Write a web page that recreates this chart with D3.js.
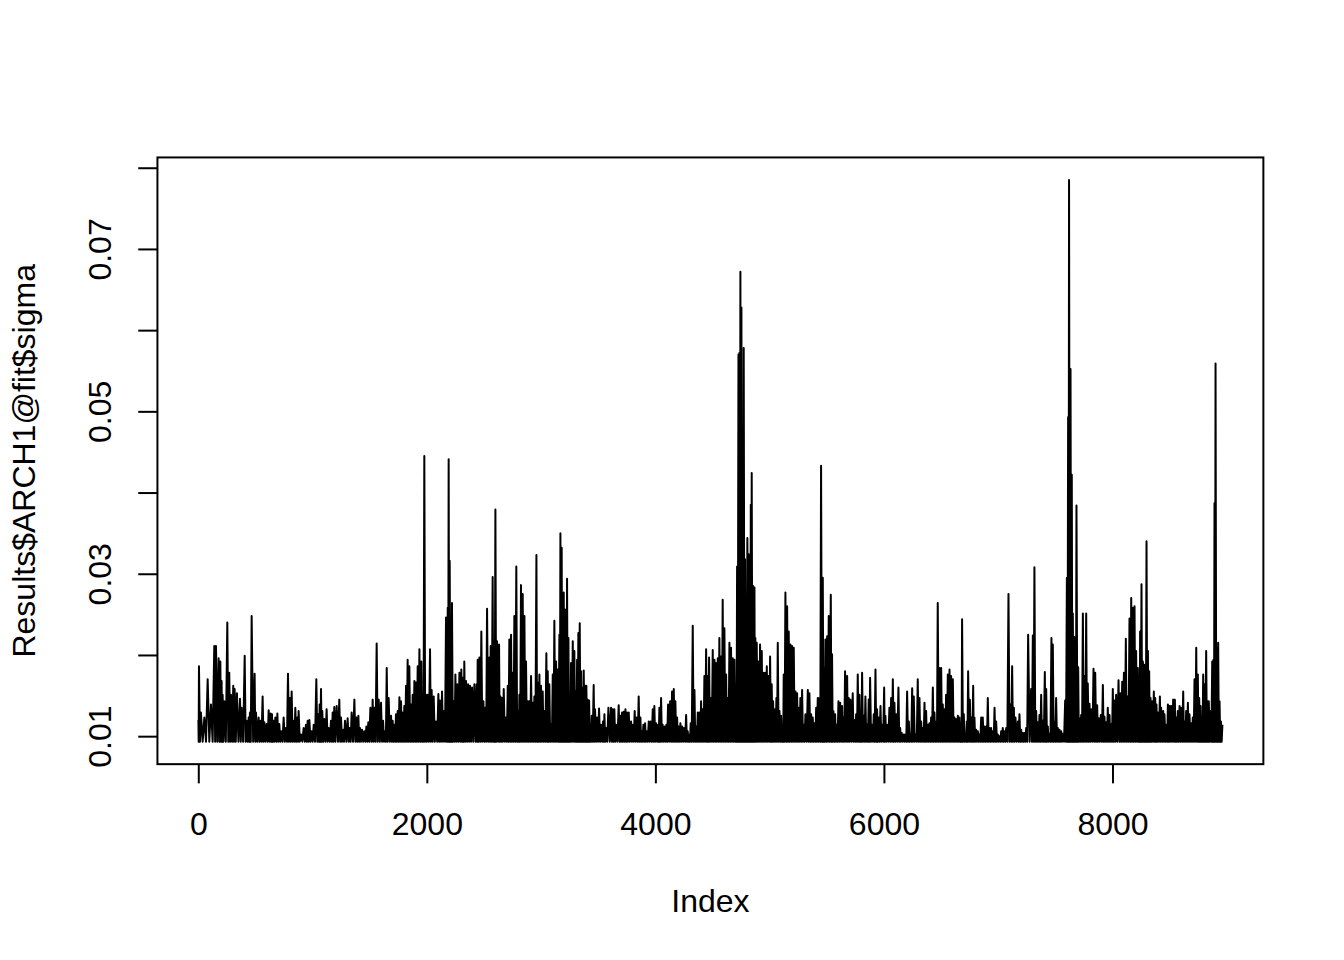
<!DOCTYPE html>
<html>
<head>
<meta charset="utf-8">
<script src="https://cdn.jsdelivr.net/npm/d3@7"></script>
<style>
  html, body { margin: 0; padding: 0; background: #ffffff; }
  svg { display: block; }
  text { font-family: "Liberation Sans", Arial, Helvetica, sans-serif; }
</style>
</head>
<body>
<svg id="chart" width="1344" height="960"></svg>
<script>
// ---- data ----
// local tops of Results$ARCH1@fit$sigma: [index, sigma]
const sigmaPeaks = [
[1,0.0120],[6,0.0186],[23,0.0129],[53,0.0123],[82,0.0170],[111,0.0139],[140,0.0211],[155,0.0211],[178,0.0196],[193,0.0192],[204,0.0168],[213,0.0151],[228,0.0143],[254,0.0240],[271,0.0178],[286,0.0151],[306,0.0162],[318,0.0158],[338,0.0153],[365,0.0146],[379,0.0135],[406,0.0199],[423,0.0119],[441,0.0123],[452,0.0129],[467,0.0248],[493,0.0177],[505,0.0129],[528,0.0123],[543,0.0119],[563,0.0149],[578,0.0117],[598,0.0115],[616,0.0132],[633,0.0128],[645,0.0127],[657,0.0119],[674,0.0123],[692,0.0128],[709,0.0115],[727,0.0106],[747,0.0123],[767,0.0110],[785,0.0177],[802,0.0147],[817,0.0155],[835,0.0119],[849,0.0135],[867,0.0123],[878,0.0131],
[899,0.0102],[922,0.0110],[942,0.0114],[957,0.0119],[972,0.0120],[992,0.0106],[1010,0.0114],[1033,0.0170],[1050,0.0127],[1062,0.0139],[1074,0.0158],[1085,0.0131],[1103,0.0121],[1123,0.0133],[1141,0.0110],[1161,0.0119],[1176,0.0129],[1190,0.0136],[1211,0.0137],[1234,0.0145],[1249,0.0123],[1266,0.0108],[1284,0.0119],[1307,0.0122],[1325,0.0110],[1342,0.0129],[1366,0.0145],[1383,0.0123],[1401,0.0125],[1415,0.0110],[1433,0.0108],[1453,0.0106],[1471,0.0112],[1488,0.0117],[1506,0.0135],[1526,0.0145],[1541,0.0135],[1561,0.0214],[1579,0.0145],[1599,0.0141],[1617,0.0119],[1634,0.0106],[1649,0.0184],[1666,0.0147],[1687,0.0125],[1701,0.0119],[1716,0.0114],[1730,0.0127],[1745,0.0131],[1760,0.0148],
[1774,0.0143],[1789,0.0129],[1803,0.0137],[1818,0.0162],[1832,0.0194],[1847,0.0186],[1862,0.0139],[1876,0.0151],[1891,0.0168],[1905,0.0166],[1920,0.0186],[1935,0.0207],[1952,0.0192],[1964,0.0114],[1978,0.0445],[1993,0.0151],[2007,0.0151],[2028,0.0207],[2042,0.0157],[2060,0.0149],[2080,0.0118],[2101,0.0152],[2115,0.0144],[2133,0.0155],[2150,0.0131],[2168,0.0246],[2183,0.0258],[2191,0.0441],[2200,0.0316],[2212,0.0229],[2220,0.0264],[2235,0.0143],[2250,0.0176],[2267,0.0164],[2285,0.0178],[2302,0.0182],[2314,0.0172],[2328,0.0192],[2343,0.0168],[2361,0.0164],[2378,0.0162],[2396,0.0160],[2416,0.0164],[2436,0.0164],[2445,0.0194],[2460,0.0197],[2477,0.0229],[2495,0.0143],[2512,0.0135],[2527,0.0257],[2547,0.0197],[2559,0.0211],[2576,0.0296],[2588,0.0217],[2600,0.0379],[2614,0.0217],[2632,0.0213],[2644,0.0149],[2658,0.0147],[2673,0.0158],
[2693,0.0123],[2708,0.0162],[2722,0.0219],[2737,0.0225],[2751,0.0178],[2766,0.0248],[2783,0.0309],[2798,0.0131],[2810,0.0151],[2824,0.0286],[2839,0.0275],[2854,0.0248],[2868,0.0192],[2883,0.0143],[2897,0.0143],[2912,0.0174],[2929,0.0141],[2941,0.0149],[2959,0.0323],[2970,0.0166],[2985,0.0176],[2999,0.0162],[3014,0.0155],[3029,0.0131],[3046,0.0202],[3058,0.0180],[3072,0.0164],[3087,0.0114],[3102,0.0176],[3116,0.0242],[3131,0.0192],[3145,0.0182],[3160,0.0225],[3169,0.0350],[3180,0.0332],[3189,0.0256],[3198,0.0277],[3209,0.0256],[3218,0.0221],[3227,0.0294],[3239,0.0221],[3250,0.0147],[3262,0.0190],[3277,0.0217],[3291,0.0205],[3303,0.0155],[3315,0.0194],[3326,0.0227],[3338,0.0239],[3350,0.0180],[3361,0.0159],[3373,0.0181],[3385,0.0162],[3396,0.0162],[3408,0.0145],[3420,0.0144],[3431,0.0114],[3443,0.0125],[3460,0.0163],[3472,0.0133],[3490,0.0123],[3507,0.0134],[3525,0.0114],[3542,0.0118],[3554,0.0127],[3568,0.0110],[3589,0.0135],
[3612,0.0135],[3627,0.0133],[3641,0.0133],[3656,0.0114],[3679,0.0138],[3694,0.0125],[3708,0.0129],[3723,0.0130],[3738,0.0133],[3752,0.0129],[3767,0.0129],[3787,0.0118],[3802,0.0114],[3819,0.0131],[3837,0.0123],[3854,0.0149],[3869,0.0123],[3881,0.0106],[3895,0.0114],[3910,0.0116],[3924,0.0106],[3942,0.0118],[3959,0.0118],[3977,0.0133],[3991,0.0137],[4006,0.0116],[4024,0.0114],[4035,0.0135],[4050,0.0147],[4064,0.0114],[4082,0.0112],[4096,0.0114],[4111,0.0139],[4129,0.0143],[4146,0.0155],[4161,0.0158],[4175,0.0143],[4190,0.0123],[4204,0.0112],[4219,0.0116],[4234,0.0112],[4251,0.0110],[4269,0.0126],[4283,0.0106],[4298,0.0102],[4309,0.0116],[4327,0.0236],[4342,0.0157],[4356,0.0112],[4371,0.0129],[4385,0.0129],[4400,0.0143],[4415,0.0133],[4429,0.0174],[4444,0.0207],[4458,0.0174],[4470,0.0197],[4485,0.0147],[4502,0.0206],
[4517,0.0194],[4531,0.0190],[4546,0.0196],[4560,0.0221],[4575,0.0198],[4589,0.0268],[4604,0.0233],[4619,0.0176],[4633,0.0147],[4648,0.0215],[4662,0.0209],[4677,0.0196],[4692,0.0194],[4706,0.0164],[4715,0.0309],[4727,0.0570],[4735,0.0572],[4744,0.0672],[4753,0.0628],[4762,0.0316],[4773,0.0578],[4785,0.0318],[4797,0.0235],[4805,0.0344],[4817,0.0324],[4826,0.0320],[4835,0.0385],[4843,0.0424],[4855,0.0285],[4867,0.0283],[4875,0.0221],[4887,0.0215],[4902,0.0192],[4916,0.0213],[4931,0.0205],[4945,0.0178],[4960,0.0178],[4975,0.0186],[4989,0.0174],[5004,0.0198],[5018,0.0164],[5030,0.0143],[5045,0.0133],[5059,0.0147],[5071,0.0215],[5086,0.0131],[5100,0.0125],[5115,0.0114],[5123,0.0176],[5138,0.0277],[5153,0.0260],[5167,0.0229],[5182,0.0213],[5196,0.0211],[5211,0.0209],[5226,0.0155],[5240,0.0153],[5255,0.0135],[5269,0.0147],[5284,0.0157],[5299,0.0114],[5313,0.0127],[5334,0.0157],[5348,0.0153],[5363,0.0127],[5377,0.0123],[5392,0.0116],[5407,0.0135],[5421,0.0147],[5436,0.0147],
[5450,0.0433],[5465,0.0295],[5476,0.0184],[5488,0.0219],[5503,0.0223],[5517,0.0248],[5535,0.0274],[5546,0.0201],[5558,0.0131],[5573,0.0127],[5587,0.0114],[5602,0.0143],[5617,0.0141],[5634,0.0137],[5646,0.0123],[5660,0.0180],[5678,0.0174],[5692,0.0147],[5707,0.0145],[5727,0.0153],[5742,0.0120],[5757,0.0127],[5771,0.0176],[5786,0.0151],[5797,0.0118],[5809,0.0178],[5824,0.0125],[5838,0.0149],[5853,0.0114],[5867,0.0145],[5879,0.0172],[5897,0.0114],[5911,0.0127],[5926,0.0182],[5940,0.0133],[5952,0.0123],[5970,0.0137],[5984,0.0114],[6002,0.0160],[6013,0.0125],[6028,0.0114],[6048,0.0135],[6063,0.0147],[6078,0.0170],[6092,0.0141],[6107,0.0127],[6127,0.0160],[6142,0.0110],[6156,0.0104],[6174,0.0102],[6188,0.0102],[6203,0.0155],[6218,0.0118],[6232,0.0102],[6247,0.0159],[6261,0.0149],[6279,0.0102],[6296,0.0170],[6311,0.0147],[6326,0.0118],[6340,0.0110],
[6355,0.0141],[6369,0.0131],[6384,0.0114],[6398,0.0116],[6413,0.0123],[6428,0.0160],[6442,0.0129],[6457,0.0118],[6471,0.0264],[6486,0.0184],[6501,0.0184],[6515,0.0139],[6530,0.0133],[6544,0.0151],[6559,0.0176],[6574,0.0182],[6588,0.0174],[6603,0.0170],[6617,0.0123],[6632,0.0121],[6647,0.0125],[6661,0.0123],[6676,0.0108],[6684,0.0244],[6699,0.0127],[6711,0.0102],[6725,0.0118],[6737,0.0180],[6752,0.0145],[6766,0.0123],[6781,0.0162],[6792,0.0123],[6807,0.0108],[6822,0.0106],[6836,0.0102],[6851,0.0123],[6865,0.0123],[6880,0.0112],[6895,0.0112],[6909,0.0147],[6924,0.0110],[6938,0.0110],[6953,0.0106],[6968,0.0135],[6982,0.0118],[6997,0.0102],[7011,0.0100],[7026,0.0106],[7040,0.0110],[7055,0.0106],[7070,0.0110],[7090,0.0275],[7108,0.0139],[7122,0.0186],[7137,0.0135],[7151,0.0123],[7172,0.0118],[7186,0.0127],[7201,0.0108],[7216,0.0104],[7230,0.0104],[7245,0.0110],[7262,0.0225],
[7288,0.0158],[7303,0.0224],[7317,0.0308],[7332,0.0131],[7347,0.0117],[7361,0.0126],[7376,0.0151],[7390,0.0119],[7408,0.0179],[7420,0.0158],[7434,0.0112],[7449,0.0103],[7466,0.0221],[7478,0.0213],[7493,0.0117],[7507,0.0147],[7522,0.0110],[7536,0.0108],[7551,0.0106],[7566,0.0103],[7586,0.0144],[7601,0.0295],[7612,0.0493],[7620,0.0785],[7633,0.0552],[7644,0.0422],[7653,0.0251],[7665,0.0222],[7676,0.0185],[7685,0.0384],[7700,0.0185],[7711,0.0122],[7726,0.0126],[7741,0.0251],[7755,0.0174],[7770,0.0251],[7784,0.0165],[7799,0.0140],[7816,0.0133],[7834,0.0183],[7849,0.0178],[7866,0.0138],[7881,0.0122],[7898,0.0126],[7916,0.0163],[7930,0.0124],[7945,0.0117],[7959,0.0135],[7974,0.0126],[7989,0.0115],[8003,0.0158],[8018,0.0144],[8032,0.0151],[8053,0.0169],[8070,0.0153],[8085,0.0167],[8100,0.0178],[8117,0.0220],[8132,0.0149],[8149,0.0245],[8164,0.0270],[8178,0.0258],
[8193,0.0260],[8207,0.0205],[8222,0.0184],[8234,0.0164],[8242,0.0229],[8254,0.0287],[8266,0.0192],[8277,0.0188],[8286,0.0180],[8298,0.0340],[8310,0.0205],[8321,0.0180],[8333,0.0147],[8347,0.0143],[8362,0.0155],[8374,0.0147],[8385,0.0139],[8397,0.0129],[8415,0.0149],[8426,0.0135],[8444,0.0131],[8455,0.0127],[8473,0.0114],[8485,0.0139],[8499,0.0137],[8514,0.0137],[8531,0.0145],[8546,0.0145],[8558,0.0123],[8572,0.0131],[8587,0.0137],[8601,0.0135],[8619,0.0155],[8631,0.0118],[8645,0.0131],[8660,0.0141],[8674,0.0127],[8689,0.0116],[8703,0.0123],[8718,0.0170],[8733,0.0209],[8747,0.0176],[8759,0.0147],[8771,0.0137],[8782,0.0123],[8794,0.0176],[8806,0.0164],[8820,0.0205],[8832,0.0143],[8843,0.0143],[8858,0.0131],[8873,0.0192],[8884,0.0194],[8893,0.0387],[8902,0.0559],[8914,0.0209],[8925,0.0215],[8937,0.0143],[8949,0.0118],[8962,0.0114]
];
// level the series falls back to between the tops (bottom edge of the black band)
const sigmaFloor = 0.00932;
const seriesLength = 8962;

const xTicks = [0, 2000, 4000, 6000, 8000];
const yTicks = [0.01, 0.02, 0.03, 0.04, 0.05, 0.06, 0.07, 0.08];
const yTickLabels = ["0.01", "", "0.03", "", "0.05", "", "0.07", ""];
const xLabel = "Index";
const yLabel = "Results$ARCH1@fit$sigma";

// ---- build the drawn series: each top, then the return to the floor ----
const series = [];
sigmaPeaks.forEach((p, i) => {
  series.push({ i: p[0], v: p[1] });
  if (i < sigmaPeaks.length - 1) {
    series.push({ i: (p[0] + sigmaPeaks[i + 1][0]) / 2, v: sigmaFloor });
  }
});

// ---- layout (R base graphics, 7x5in at 192dpi, mar = 5.1 4.1 4.1 2.1) ----
const W = 1344, H = 960, lh = 38.4;
const plot = { left: 4.1 * lh, right: W - 2.1 * lh, top: 4.1 * lh, bottom: H - 5.1 * lh };
const fontSize = 32;
const tickLen = 0.5 * lh;

const svg = d3.select("#chart");

// R style 4% axis extension
const xr = [1, seriesLength];
const xPad = 0.04 * (xr[1] - xr[0]);
const x = d3.scaleLinear().domain([xr[0] - xPad, xr[1] + xPad]).range([plot.left, plot.right]);

const yr = d3.extent(series, d => d.v);
const yPad = 0.04 * (yr[1] - yr[0]);
const y = d3.scaleLinear().domain([yr[0] - yPad, yr[1] + yPad]).range([plot.bottom, plot.top]);

// series line
const line = d3.line().x(d => x(d.i)).y(d => y(d.v));
svg.append("path")
  .datum(series)
  .attr("d", line)
  .attr("fill", "none")
  .attr("stroke", "#000")
  .attr("stroke-width", 2)
  .attr("stroke-linejoin", "round");

// box
svg.append("rect")
  .attr("x", plot.left).attr("y", plot.top)
  .attr("width", plot.right - plot.left).attr("height", plot.bottom - plot.top)
  .attr("fill", "none").attr("stroke", "#000").attr("stroke-width", 2);

// x axis
const gx = svg.append("g")
  .attr("transform", `translate(0,${plot.bottom})`)
  .call(d3.axisBottom(x).tickValues(xTicks).tickSize(tickLen).tickFormat(d3.format("d")));
gx.select(".domain").remove();
gx.selectAll(".tick line").attr("stroke", "#000").attr("stroke-width", 2);
gx.selectAll(".tick text")
  .attr("y", 1.85 * lh).attr("dy", null)
  .attr("fill", "#000")
  .style("font-size", fontSize + "px")
  .style("font-family", '"Liberation Sans", Arial, Helvetica, sans-serif');

// y axis
const gy = svg.append("g")
  .attr("transform", `translate(${plot.left},0)`)
  .call(d3.axisLeft(y).tickValues(yTicks).tickSize(tickLen).tickFormat((d, i) => yTickLabels[i]));
gy.select(".domain").remove();
gy.selectAll(".tick line").attr("stroke", "#000").attr("stroke-width", 2);
gy.selectAll(".tick text")
  .attr("transform", "rotate(-90)")
  .attr("x", 0).attr("y", -1.2 * lh).attr("dy", null)
  .attr("text-anchor", "middle")
  .attr("fill", "#000")
  .style("font-size", fontSize + "px")
  .style("font-family", '"Liberation Sans", Arial, Helvetica, sans-serif');

// axis titles
svg.append("text")
  .attr("x", (plot.left + plot.right) / 2)
  .attr("y", plot.bottom + 3.85 * lh)
  .attr("text-anchor", "middle")
  .style("font-size", fontSize + "px")
  .text(xLabel);

svg.append("text")
  .attr("transform", `translate(${plot.left - 3.2 * lh},${(plot.top + plot.bottom) / 2}) rotate(-90)`)
  .attr("text-anchor", "middle")
  .style("font-size", fontSize + "px")
  .text(yLabel);
</script>
</body>
</html>
